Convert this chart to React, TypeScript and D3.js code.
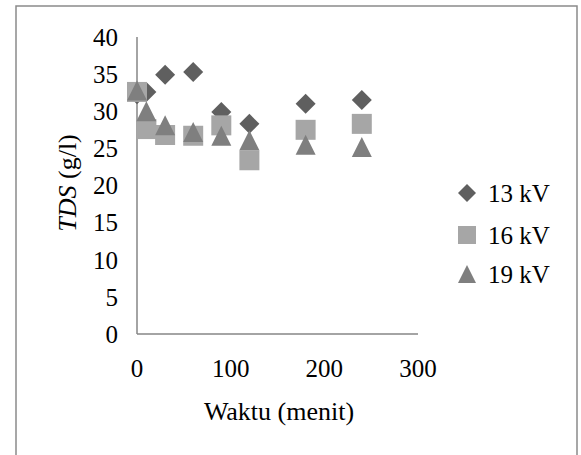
import React from "react";
import * as d3 from "d3";

const times = [0, 10, 30, 60, 90, 120, 180, 240];
const kv13 = [32.3, 32.6, 34.9, 35.3, 29.9, 28.3, 31.0, 31.5];
const kv16 = [32.6, 27.6, 26.8, 26.7, 28.1, 23.4, 27.5, 28.3];
const kv19 = [32.8, 30.0, 28.1, 27.2, 26.7, 26.1, 25.5, 25.2];
const seriesNames = ["13 kV", "16 kV", "19 kV"];
const xTicks = [0, 100, 200, 300];
const yTicks = [0, 5, 10, 15, 20, 25, 30, 35, 40];

const W = 581;
const H = 455;
const FONT = '"Liberation Serif", "DejaVu Serif", serif';

const x = d3.scaleLinear().domain([0, 300]).range([137, 418]);
const y = d3.scaleLinear().domain([0, 40]).range([334, 37]);

const colors = ["#5f5f5f", "#a6a6a6", "#7f7f7f"];

function markerPath(i: number): string {
  if (i === 0) return "M0,-10L10,0L0,10L-10,0Z";
  if (i === 1) return "M-10,-10L10,-10L10,10L-10,10Z";
  return "M0,-10L10,10L-10,10Z";
}

export default function App() {
  const series = [kv13, kv16, kv19];
  const common = { fontFamily: FONT, fontSize: 25, fill: "#000" };
  return (
    <div style={{ position: "absolute", left: 0, top: 0, fontFamily: FONT }}>
      <svg width={W} height={H} style={{ display: "block", background: "#fff" }}>
        <rect x={16} y={6} width={561} height={470} fill="#fff" stroke="#8a8a8a" strokeWidth={1.5} />
        <line x1={x(0)} x2={x(0)} y1={y(40)} y2={y(0)} stroke="#868686" strokeWidth={1.5} />
        <line x1={x(0)} x2={x(300)} y1={y(0)} y2={y(0)} stroke="#868686" strokeWidth={1.5} />
        {yTicks.map((t) => (
          <text key={"y" + t} x={118} y={y(t)} dy="0.35em" textAnchor="end" {...common}>
            {t}
          </text>
        ))}
        {xTicks.map((t) => (
          <text key={"x" + t} x={x(t)} y={368} dy="0.35em" textAnchor="middle" {...common}>
            {t}
          </text>
        ))}
        <text x={279} y={411} dy="0.35em" textAnchor="middle" {...common} fontSize={26}>
          Waktu (menit)
        </text>
        <text transform={`translate(67,183) rotate(-90)`} dy="0.35em" textAnchor="middle" {...common} fontSize={26}>
          <tspan fontStyle="italic">TDS</tspan> (g/l)
        </text>
        {series.map((vals, si) =>
          vals.map((v, i) => (
            <path
              key={si + "-" + i}
              d={markerPath(si)}
              transform={`translate(${x(times[i])},${y(v)})`}
              fill={colors[si]}
            />
          ))
        )}
        {seriesNames.map((name, si) => {
          const ly = [193, 235, 274][si];
          return (
            <g key={name}>
              <path d={markerPath(si)} transform={`translate(467,${ly}) scale(0.9)`} fill={colors[si]} />
              <text x={488} y={ly} dy="0.35em" {...common}>
                {name}
              </text>
            </g>
          );
        })}
      </svg>
    </div>
  );
}
